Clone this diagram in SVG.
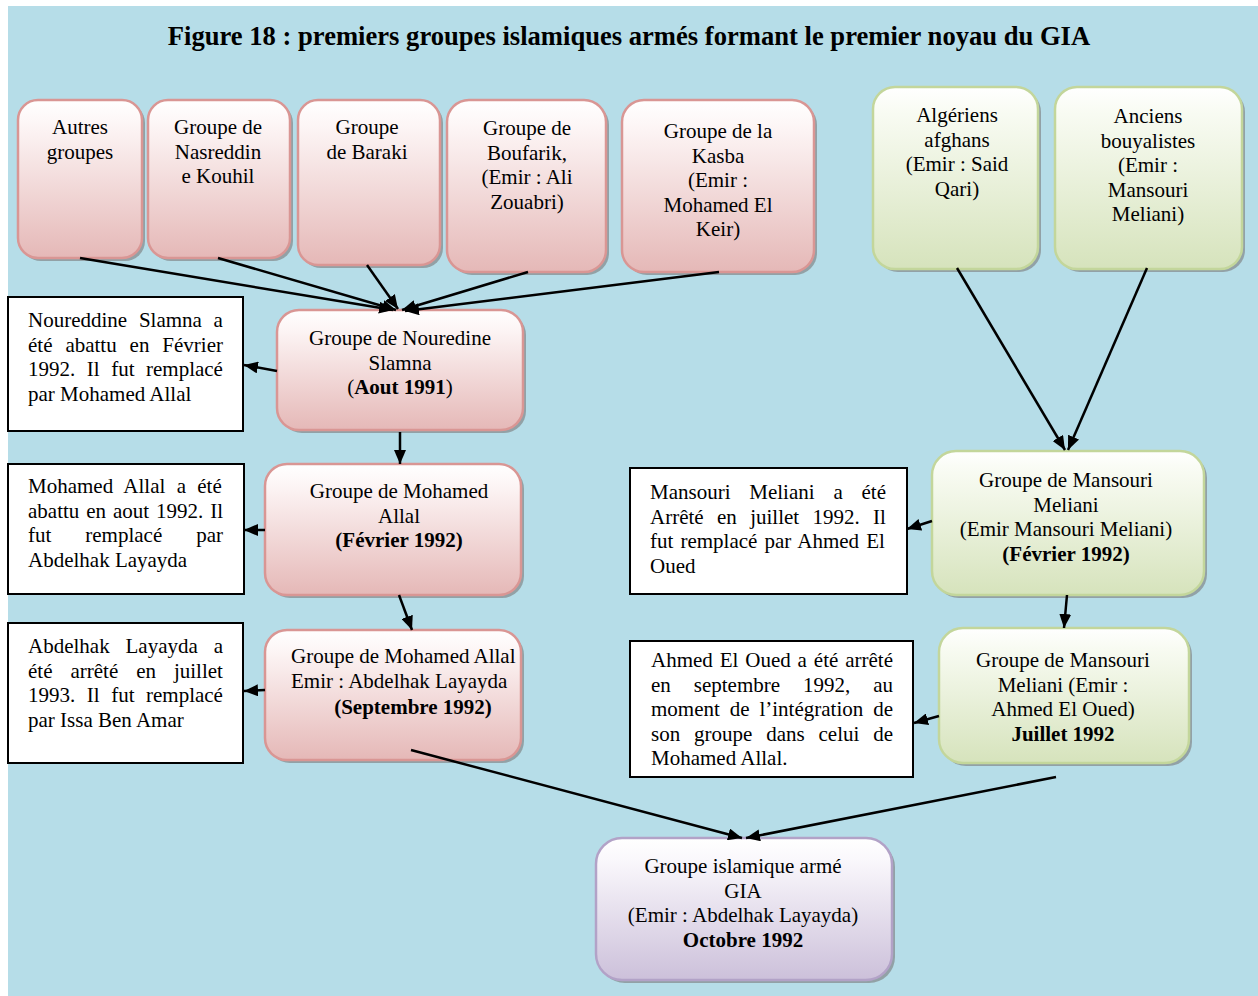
<svg xmlns="http://www.w3.org/2000/svg" width="1258" height="996" viewBox="0 0 1258 996">
<style>
text{font-family:"Liberation Serif","Times New Roman",serif;font-size:21px;fill:#000}
.t{text-anchor:middle}
.b{font-weight:bold}
.title{font-size:26.6px;font-weight:bold;text-anchor:middle}
.sh{fill:#7a7a7a;opacity:.6}
.pk{fill:url(#gp);stroke:#d99694;stroke-width:2.5}
.gr{fill:url(#gg);stroke:#c3d69b;stroke-width:2.5}
.pu{fill:url(#gu);stroke:#b2a2c7;stroke-width:2.5}
.bx{fill:#fff;stroke:#000;stroke-width:2}
.c line{stroke:#000;stroke-width:2.5;marker-end:url(#ah)}
</style>
<defs>
<linearGradient id="gp" x1="0" y1="0" x2="0" y2="1"><stop offset="0" stop-color="#ffffff"/><stop offset="0.15" stop-color="#fdf6f6"/><stop offset="1" stop-color="#e5b8b7"/></linearGradient>
<linearGradient id="gg" x1="0" y1="0" x2="0" y2="1"><stop offset="0" stop-color="#ffffff"/><stop offset="0.15" stop-color="#f8fbf2"/><stop offset="1" stop-color="#d6e3bc"/></linearGradient>
<linearGradient id="gu" x1="0" y1="0" x2="0" y2="1"><stop offset="0" stop-color="#ffffff"/><stop offset="0.15" stop-color="#faf8fc"/><stop offset="1" stop-color="#ccc0da"/></linearGradient>
<marker id="ah" viewBox="0 0 14 12" refX="14" refY="6" markerWidth="14" markerHeight="12" markerUnits="userSpaceOnUse" orient="auto"><path d="M0,0 L14,6 L0,12 z" fill="#000"/></marker>
</defs>
<rect x="8" y="6" width="1250" height="990" fill="#b6dde8"/>
<text class="title" x="629" y="45">Figure 18 : premiers groupes islamiques armés formant le premier noyau du GIA</text>

<g id="n-autres"><rect class="sh" x="21" y="103" width="124" height="158" rx="20"/><rect class="pk" x="18" y="100" width="124" height="158" rx="20"/>
<text class="t" x="80"><tspan x="80" y="134">Autres</tspan><tspan x="80" y="159">groupes</tspan></text></g>
<g id="n-nasreddine"><rect class="sh" x="151" y="103" width="142" height="158" rx="20"/><rect class="pk" x="148" y="100" width="142" height="158" rx="20"/>
<text class="t"><tspan x="218" y="134">Groupe de</tspan><tspan x="218" y="158.5">Nasreddin</tspan><tspan x="218" y="183">e Kouhil</tspan></text></g>
<g id="n-baraki"><rect class="sh" x="301" y="103" width="142" height="165" rx="20"/><rect class="pk" x="298" y="100" width="142" height="165" rx="20"/>
<text class="t"><tspan x="367" y="134">Groupe</tspan><tspan x="367" y="158.5">de Baraki</tspan></text></g>
<g id="n-boufarik"><rect class="sh" x="450" y="103" width="159" height="172" rx="22"/><rect class="pk" x="447" y="100" width="159" height="172" rx="22"/>
<text class="t"><tspan x="527" y="135">Groupe de</tspan><tspan x="527" y="159.5">Boufarik,</tspan><tspan x="527" y="184">(Emir : Ali</tspan><tspan x="527" y="208.5">Zouabri)</tspan></text></g>
<g id="n-kasba"><rect class="sh" x="625" y="103" width="192" height="172" rx="22"/><rect class="pk" x="622" y="100" width="192" height="172" rx="22"/>
<text class="t"><tspan x="718" y="138">Groupe de la</tspan><tspan x="718" y="162.5">Kasba</tspan><tspan x="718" y="187">(Emir :</tspan><tspan x="718" y="211.5">Mohamed El</tspan><tspan x="718" y="236">Keir)</tspan></text></g>

<g id="n-algeriens"><rect class="sh" x="876" y="90" width="165" height="182" rx="22"/><rect class="gr" x="873" y="87" width="165" height="182" rx="22"/>
<text class="t"><tspan x="957" y="122">Algériens</tspan><tspan x="957" y="146.5">afghans</tspan><tspan x="957" y="171">(Emir : Said</tspan><tspan x="957" y="195.5">Qari)</tspan></text></g>
<g id="n-anciens"><rect class="sh" x="1058" y="90" width="187" height="182" rx="22"/><rect class="gr" x="1055" y="87" width="187" height="182" rx="22"/>
<text class="t"><tspan x="1148" y="123">Anciens</tspan><tspan x="1148" y="147.5">bouyalistes</tspan><tspan x="1148" y="172">(Emir :</tspan><tspan x="1148" y="196.5">Mansouri</tspan><tspan x="1148" y="221">Meliani)</tspan></text></g>

<g id="n-nouredine"><rect class="sh" x="280" y="313" width="246" height="120" rx="22"/><rect class="pk" x="277" y="310" width="246" height="120" rx="22"/>
<text class="t"><tspan x="400" y="345">Groupe de Nouredine</tspan><tspan x="400" y="369.5">Slamna</tspan><tspan x="400" y="394">(<tspan class="b">Aout 1991</tspan>)</tspan></text></g>
<g id="n-allal"><rect class="sh" x="268" y="467" width="256" height="131" rx="22"/><rect class="pk" x="265" y="464" width="256" height="131" rx="22"/>
<text class="t"><tspan x="399" y="498">Groupe de Mohamed</tspan><tspan x="399" y="522.5">Allal</tspan><tspan x="399" y="547" class="b">(Février 1992)</tspan></text></g>
<g id="n-septembre"><rect class="sh" x="268" y="633" width="256" height="130" rx="22"/><rect class="pk" x="265" y="630" width="256" height="130" rx="22"/>
<text><tspan x="291" y="663">Groupe de Mohamed Allal</tspan><tspan x="291" y="688">Emir : Abdelhak Layayda</tspan></text>
<text class="t b" x="413" y="714">(Septembre 1992)</text></g>

<g id="n-mansouri"><rect class="sh" x="935" y="454" width="272" height="144" rx="24"/><rect class="gr" x="932" y="451" width="272" height="144" rx="24"/>
<text class="t"><tspan x="1066" y="487">Groupe de Mansouri</tspan><tspan x="1066" y="511.5">Meliani</tspan><tspan x="1066" y="536">(Emir Mansouri Meliani)</tspan><tspan x="1066" y="560.5" class="b">(Février 1992)</tspan></text></g>
<g id="n-juillet"><rect class="sh" x="942" y="631" width="250" height="135" rx="24"/><rect class="gr" x="939" y="628" width="250" height="135" rx="24"/>
<text class="t"><tspan x="1063" y="667">Groupe de Mansouri</tspan><tspan x="1063" y="691.5">Meliani (Emir :</tspan><tspan x="1063" y="716">Ahmed El Oued)</tspan><tspan x="1063" y="740.5" class="b">Juillet 1992</tspan></text></g>

<g id="n-gia"><rect class="sh" x="599" y="841" width="296" height="142" rx="26"/><rect class="pu" x="596" y="838" width="296" height="142" rx="26"/>
<text class="t"><tspan x="743" y="873">Groupe islamique armé</tspan><tspan x="743" y="897.5">GIA</tspan><tspan x="743" y="922">(Emir : Abdelhak Layayda)</tspan><tspan x="743" y="946.5" class="b">Octobre 1992</tspan></text></g>

<g id="box-slamna"><rect class="bx" x="8" y="297" width="235" height="134"/>
<text x="28" y="327" word-spacing="6.5">Noureddine Slamna a</text>
<text x="28" y="351.5" word-spacing="7.65">été abattu en Février</text>
<text x="28" y="376" word-spacing="6.28">1992. Il fut remplacé</text>
<text x="28" y="400.5">par Mohamed Allal</text></g>
<g id="box-allal"><rect class="bx" x="8" y="464" width="236" height="130"/>
<text x="28" y="493" word-spacing="6.08">Mohamed Allal a été</text>
<text x="28" y="517.5" word-spacing="1.65">abattu en aout 1992. Il</text>
<text x="28" y="542" word-spacing="28.7">fut remplacé par</text>
<text x="28" y="566.5">Abdelhak Layayda</text></g>
<g id="box-layayda"><rect class="bx" x="8" y="623" width="235" height="140"/>
<text x="28" y="653" word-spacing="10.6">Abdelhak Layayda a</text>
<text x="28" y="677.5" word-spacing="12.7">été arrêté en juillet</text>
<text x="28" y="702" word-spacing="6.28">1993. Il fut remplacé</text>
<text x="28" y="726.5">par Issa Ben Amar</text></g>
<g id="box-meliani"><rect class="bx" x="630" y="468" width="277" height="126"/>
<text x="650" y="499" word-spacing="13.55">Mansouri Meliani a été</text>
<text x="650" y="523.5" word-spacing="8.1">Arrêté en juillet 1992. Il</text>
<text x="650" y="548" word-spacing="1.85">fut remplacé par Ahmed El</text>
<text x="650" y="572.5">Oued</text></g>
<g id="box-oued"><rect class="bx" x="630" y="641" width="283" height="136"/>
<text x="651" y="667" word-spacing="1.63">Ahmed El Oued a été arrêté</text>
<text x="651" y="691.5" word-spacing="17.7">en septembre 1992, au</text>
<text x="651" y="716" word-spacing="4.65">moment de l’intégration de</text>
<text x="651" y="740.5" word-spacing="8.6">son groupe dans celui de</text>
<text x="651" y="765">Mohamed Allal.</text></g>

<g id="connectors" class="c">
<line x1="80" y1="258" x2="393" y2="310"/>
<line x1="218" y1="258" x2="396" y2="310"/>
<line x1="367" y1="265" x2="398" y2="309"/>
<line x1="528" y1="272" x2="402" y2="310"/>
<line x1="719" y1="272" x2="405" y2="311"/>
<line x1="277" y1="371" x2="244" y2="365"/>
<line x1="400" y1="432" x2="400" y2="464"/>
<line x1="265" y1="530" x2="244" y2="530"/>
<line x1="399" y1="595" x2="412" y2="630"/>
<line x1="265" y1="690" x2="244" y2="691"/>
<line x1="411" y1="750" x2="742" y2="838"/>
<line x1="1056" y1="777" x2="746" y2="838"/>
<line x1="957" y1="268" x2="1065" y2="450"/>
<line x1="1147" y1="268" x2="1068" y2="450"/>
<line x1="932" y1="521" x2="907" y2="529"/>
<line x1="1067" y1="595" x2="1064" y2="628"/>
<line x1="939" y1="716" x2="914" y2="723"/>
</g>
</svg>
